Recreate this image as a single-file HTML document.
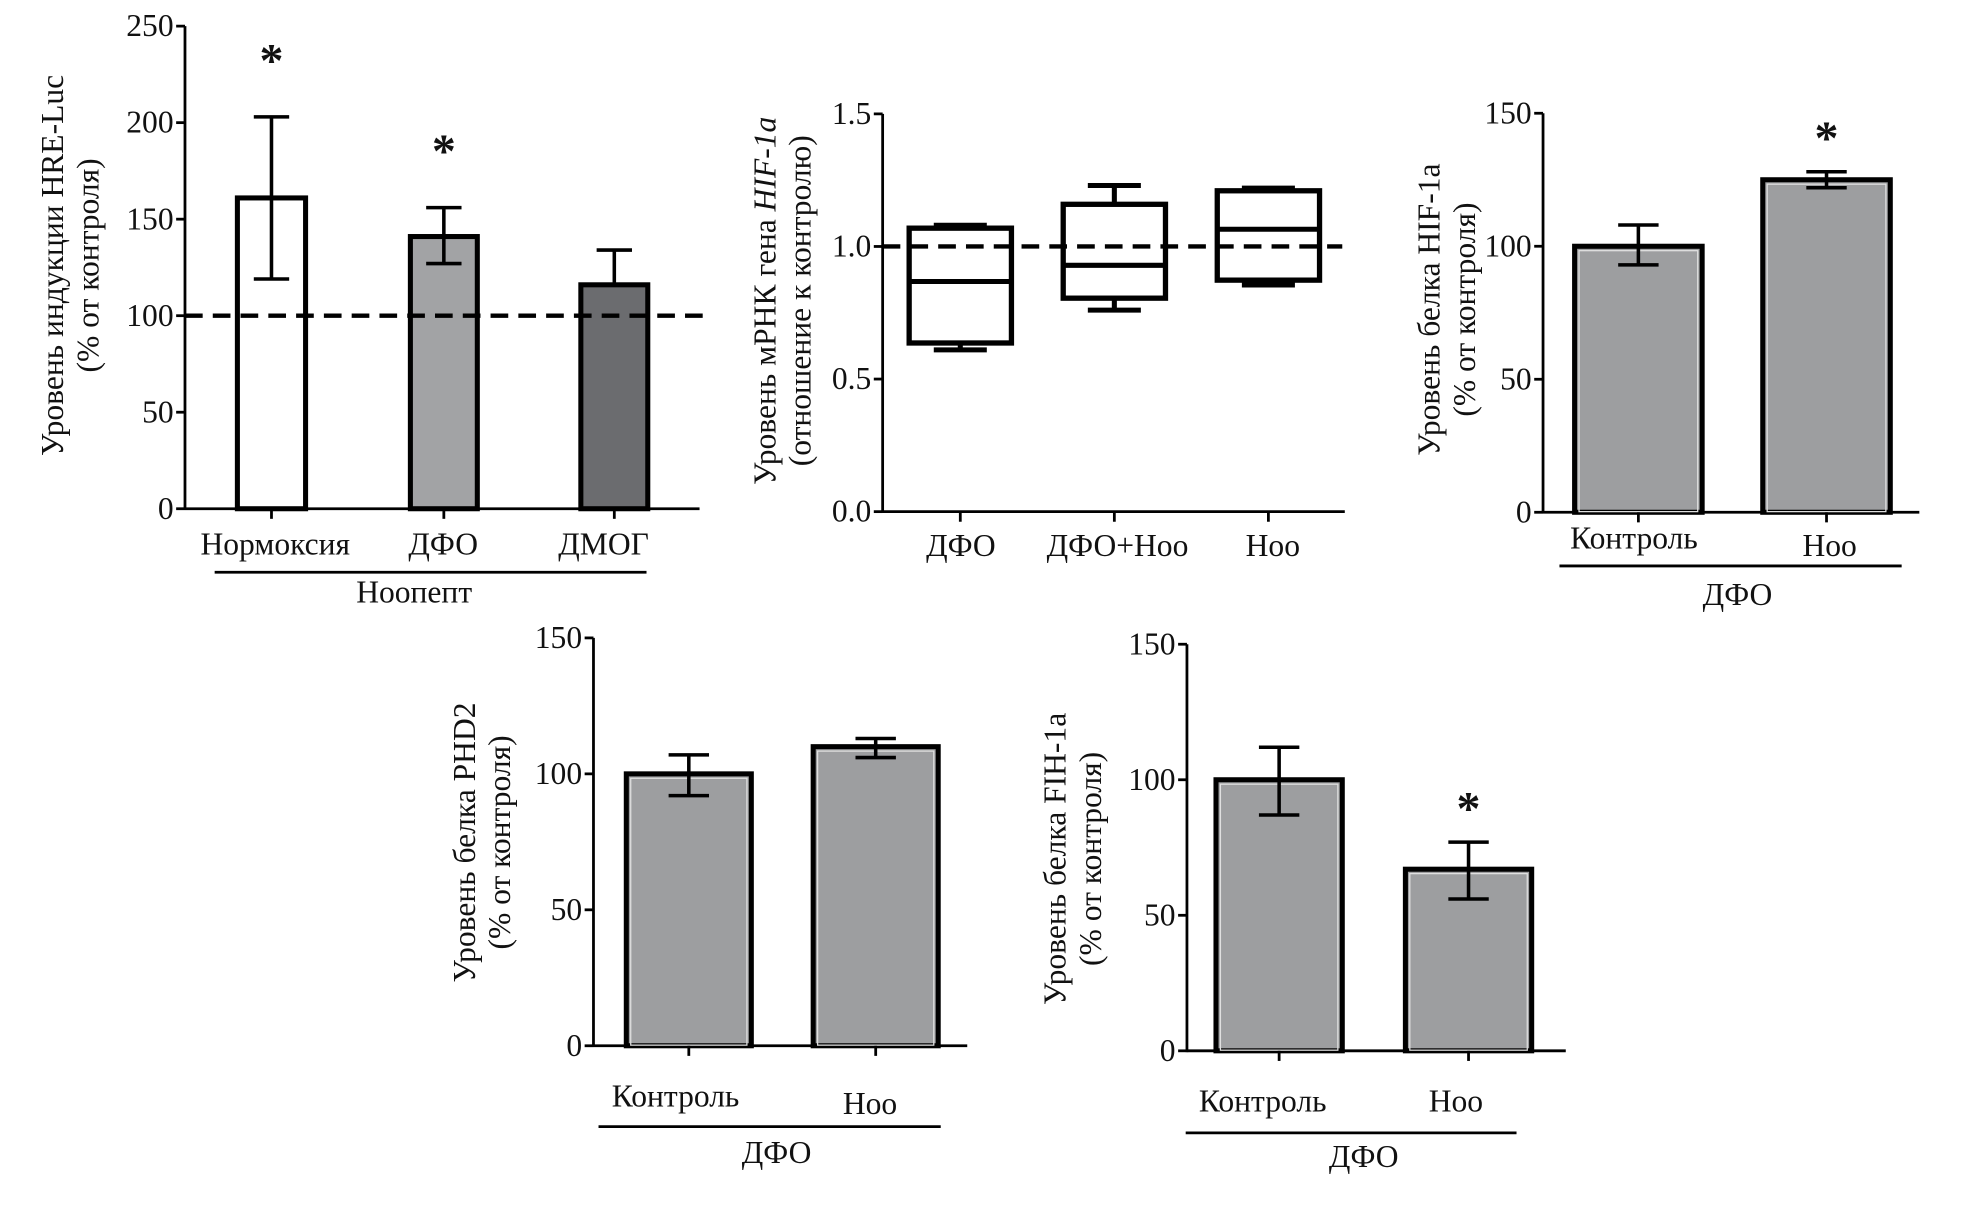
<!DOCTYPE html>
<html><head><meta charset="utf-8">
<style>
html,body{margin:0;padding:0;background:#fff;}
svg{display:block;}
text{font-family:"Liberation Serif","DejaVu Serif",serif;fill:#111;}
</style></head>
<body>
<svg id="fig" width="1961" height="1219" viewBox="0 0 1553 965" xmlns="http://www.w3.org/2000/svg"></svg>
<script>
// ---- Panel A: HRE-Luc ----
const aCategories = ["Нормоксия","ДФО","ДМОГ"];
const aValues = [161, 141, 116];
const aErrLow = [119, 127, 116];
const aErrHigh = [203, 156, 134];
const aStars = [true, true, false];
const aTicks = [0,50,100,150,200,250];
// ---- Panel B: HIF-1a mRNA boxplot ----
const bCategories = ["ДФО","ДФО+Ноо","Ноо"];
const bMin = [0.61, 0.76, 0.855];
const bQ1 = [0.636, 0.805, 0.873];
const bMedian = [0.868, 0.929, 1.065];
const bQ3 = [1.069, 1.159, 1.21];
const bMax = [1.08, 1.23, 1.22];
const bTicks = [0.0, 0.5, 1.0, 1.5];
// ---- Panel C: HIF-1a protein ----
const cCategories = ["Контроль","Ноо"];
const cValues = [100, 125];
const cErrLow = [93, 122];
const cErrHigh = [108, 128];
const cStars = [false, true];
// ---- Panel D: PHD2 ----
const dCategories = ["Контроль","Ноо"];
const dValues = [100, 110];
const dErrLow = [92, 106];
const dErrHigh = [107, 113];
const dStars = [false, false];
// ---- Panel E: FIH-1a ----
const eCategories = ["Контроль","Ноо"];
const eValues = [100, 67];
const eErrLow = [87, 56];
const eErrHigh = [112, 77];
const eStars = [false, true];
const proteinTicks = [0,50,100,150];

const NS="http://www.w3.org/2000/svg";
const svg=document.getElementById('fig');
function mk(tag, attrs, parent){const e=document.createElementNS(NS,tag);for(const k in attrs)e.setAttribute(k,attrs[k]);(parent||svg).appendChild(e);return e;}
function txt(s, attrs, parent){const t=mk('text',attrs,parent);t.textContent=s;return t;}

function axisY(g, x, y0, y1, vmin, vmax, ticks, fmt){
  const sc=v=>y0-(v-vmin)/(vmax-vmin)*(y0-y1);
  const ax=mk('line',{x1:x,y1:y0+1,x2:x,y2:y1,stroke:'#000','stroke-width':2.2},g);
  
  
  ticks.forEach(t=>{
    const y=sc(t);
    const tk=mk('line',{x1:x-7,y1:y,x2:x,y2:y,stroke:'#000','stroke-width':2.2},g);
    
    
    const lb=txt(fmt?fmt(t):String(t),{x:x-9,y:y+8,'font-size':25,'text-anchor':'end'},g);
    
    
  });
  return sc;
}
function yTitle(g, cx, cy, l1, l2){
  const t1=txt(l1,{x:0,y:0,'font-size':25,'text-anchor':'middle',transform:`translate(${cx},${cy}) rotate(-90)`},g);
  
  
  const t2=txt(l2,{x:0,y:0,'font-size':25,'text-anchor':'middle',transform:`translate(${cx+28},${cy}) rotate(-90)`},g);
  
  
}
function errBar(g, cx, lo, hi, sc, capW){
  const e=mk('path',{d:`M${cx},${sc(lo)}V${sc(hi)}M${cx-capW},${sc(lo)}H${cx+capW}M${cx-capW},${sc(hi)}H${cx+capW}`,stroke:'#000','stroke-width':2.8,fill:'none'},g);
  
  
}
function star(g, x, y){
  const s=txt('*',{x:x,y:y,'font-size':38,'font-weight':'bold','text-anchor':'middle','font-family':'Liberation Sans, sans-serif'},g);
  
  
}
function groupLine(g,x1,x2,y,label,lx,ly){
  const l=mk('line',{x1:x1,y1:y,x2:x2,y2:y,stroke:'#000','stroke-width':2.2},g);
  
  
  const t=txt(label,{x:lx,y:ly,'font-size':25,'text-anchor':'middle'},g);
  
  
}

function proteinPanel(p){
  const g=mk('g',{});
  
  
  const sc=axisY(g,p.axX,p.y0,p.y1,0,150,proteinTicks);
  const xa=mk('line',{x1:p.axX,y1:p.y0,x2:p.xEnd,y2:p.y0,stroke:'#000','stroke-width':2.2},g);
  
  
  p.cats.forEach((c,i)=>{
    const x=p.barX[i], w=p.barW, cx=x+w/2;
    const b=mk('rect',{x:x,y:sc(p.vals[i]),width:w,height:p.y0-sc(p.vals[i]),fill:'#9d9ea0',stroke:'#000','stroke-width':4},g);
    
    
    const inner=mk('rect',{x:x+3.5,y:sc(p.vals[i])+3.5,width:w-7,height:p.y0-sc(p.vals[i])-4,fill:'none',stroke:'#e0e0e0','stroke-width':1},g);
    
    
    errBar(g,cx,p.lo[i],p.hi[i],sc,16);
    const tk=mk('line',{x1:cx,y1:p.y0,x2:cx,y2:p.y0+8,stroke:'#000','stroke-width':2.2},g);
    
    
    const lb=txt(c,{x:p.labX[i],y:p.labY[i],'font-size':25,'text-anchor':'middle'},g);
    
    
    if(p.stars[i]) star(g,cx,sc(p.hi[i])-14);
  });
  yTitle(g,p.tx,p.ty,p.title,'(% от контроля)');
  groupLine(g,p.line[0],p.line[1],p.line[2],'ДФО',p.line[3],p.line[4]);
}

// ---- Panel A ----
(function(){
  const g=mk('g',{});
  
  
  const y0=402.7,y1=20.5,axX=146.5;
  const sc=axisY(g,axX,y0,y1,0,250,aTicks);
  const xa=mk('line',{x1:axX,y1:y0,x2:554,y2:y0,stroke:'#000','stroke-width':2.2},g);
  
  
  const barX=[188,325,460], barW=[54,53,53], fills=['#fff','#a2a3a5','#6b6c6f'], labX=[218,351,478];
  aCategories.forEach((c,i)=>{
    const b=mk('rect',{x:barX[i],y:sc(aValues[i]),width:barW[i],height:y0-sc(aValues[i]),fill:fills[i],stroke:'#000','stroke-width':4},g);
    
    
    const cx=barX[i]+barW[i]/2;
    errBar(g,cx,aErrLow[i],aErrHigh[i],sc,14);
    const tk=mk('line',{x1:cx,y1:y0,x2:cx,y2:y0+8,stroke:'#000','stroke-width':2.2},g);
    
    
    const lb=txt(c,{x:labX[i],y:439,'font-size':25,'text-anchor':'middle'},g);
    
    
    if(aStars[i]) star(g,cx,sc(aErrHigh[i])-32);
  });
  const d=mk('line',{x1:axX,y1:sc(100),x2:557,y2:sc(100),stroke:'#000','stroke-width':3.5,'stroke-dasharray':'14,8'},g);
  
  
  yTitle(g,50,210,'Уровень индукции HRE-Luc','(% от контроля)');
  groupLine(g,170,512,453,'Ноопепт',328,477);
})();

// ---- Panel B ----
(function(){
  const g=mk('g',{});
  
  
  const y0=405,y1=90,axX=699;
  const sc=axisY(g,axX,y0,y1,0,1.5,bTicks,t=>t.toFixed(1));
  const xa=mk('line',{x1:axX,y1:y0,x2:1065,y2:y0,stroke:'#000','stroke-width':2.2},g);
  
  
  const boxX=[720,842,964], w=81, labX=[761,885,1008];
  bCategories.forEach((c,i)=>{
    const x=boxX[i], cx=x+w/2;
    const wk=mk('path',{d:`M${cx},${sc(bMin[i])}V${sc(bQ1[i])}M${cx},${sc(bQ3[i])}V${sc(bMax[i])}M${cx-21},${sc(bMin[i])}H${cx+21}M${cx-21},${sc(bMax[i])}H${cx+21}`,stroke:'#000','stroke-width':4,fill:'none'},g);
    
    
    const bx=mk('rect',{x:x,y:sc(bQ3[i]),width:w,height:sc(bQ1[i])-sc(bQ3[i]),fill:'#fff',stroke:'#000','stroke-width':4.2},g);
    
    
    const md=mk('line',{x1:x,y1:sc(bMedian[i]),x2:x+w,y2:sc(bMedian[i]),stroke:'#000','stroke-width':4},g);
    
    
    const tk=mk('line',{x1:cx,y1:y0,x2:cx,y2:y0+8,stroke:'#000','stroke-width':2.2},g);
    
    
    const lb=txt(c,{x:labX[i],y:440,'font-size':25,'text-anchor':'middle'},g);
    
    
  });
  const d=mk('line',{x1:axX,y1:sc(1),x2:1063,y2:sc(1),stroke:'#000','stroke-width':3.5,'stroke-dasharray':'14,8'},g);
  
  
  const t1=mk('text',{x:0,y:0,'font-size':25,'text-anchor':'middle',transform:'translate(614,238) rotate(-90)'},g);
  
  
  t1.appendChild(document.createTextNode('Уровень мРНК гена '));
  const it=mk('tspan',{'font-style':'italic'},t1); it.textContent='HIF-1a';
  const t2=txt('(отношение к контролю)',{x:0,y:0,'font-size':25,'text-anchor':'middle',transform:'translate(642,238) rotate(-90)'},g);
  
  
})();

// ---- Panels C, D, E ----
proteinPanel({name:'panel-hif1a-protein',axX:1222,y0:405.5,y1:89.5,xEnd:1520,cats:cCategories,vals:cValues,lo:cErrLow,hi:cErrHigh,stars:cStars,barX:[1247,1396],barW:101,labX:[1294,1449],labY:[434,440],tx:1140,ty:245,title:'Уровень белка HIF-1a',line:[1235,1506,448,1376,479]});
proteinPanel({name:'panel-phd2-protein',axX:470,y0:828,y1:505,xEnd:766,cats:dCategories,vals:dValues,lo:dErrLow,hi:dErrHigh,stars:dStars,barX:[496,644],barW:99,labX:[535,689],labY:[876,882],tx:376,ty:667,title:'Уровень белка PHD2',line:[474,745,892,615,921]});
proteinPanel({name:'panel-fih1a-protein',axX:940,y0:832,y1:510,xEnd:1240,cats:eCategories,vals:eValues,lo:eErrLow,hi:eErrHigh,stars:eStars,barX:[963,1113],barW:100,labX:[1000,1153],labY:[880,880],tx:844,ty:680,title:'Уровень белка FIH-1a',line:[939,1201,897,1080,924]});
</script>
</body></html>
